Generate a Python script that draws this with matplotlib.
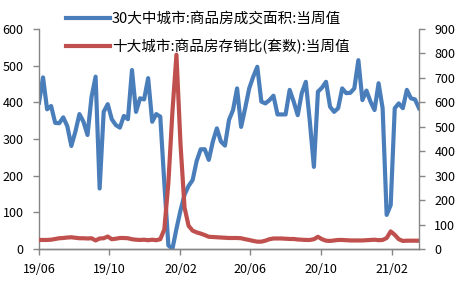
"""Weekly transaction area vs. inventory-to-sales ratio, dual axis line chart"""

import matplotlib
matplotlib.use("Agg")
import matplotlib.dates as mdates
import matplotlib.pyplot as plt
import numpy as np
import pandas as pd

plt.rcParams["font.family"] = ["Noto Sans CJK SC", "DejaVu Sans"]

# weekly observations, 2019-06-01 .. 2021-03-20
dates = pd.date_range("2019-06-01", periods=95, freq="7D")

area_30 = [
    399, 468, 381, 390, 344, 343, 359, 335, 281, 320,
    368, 347, 311, 415, 470, 165, 374, 395, 354, 338,
    331, 363, 354, 488, 374, 411, 408, 466, 347, 368,
    361, 180, 10, 0, 55, 105, 148, 172, 188, 240,
    272, 272, 243, 293, 329, 293, 282, 352, 379, 438,
    333, 384, 438, 470, 497, 402, 397, 406, 418, 367,
    367, 367, 434, 402, 365, 425, 456, 347, 224, 429,
    440, 456, 388, 374, 384, 438, 425, 426, 438, 515,
    406, 432, 402, 379, 452, 384, 93, 120, 384, 397,
    384, 434, 411, 408, 384,
]

ratio_10 = [
    37, 37, 37, 38, 41, 44, 45, 47, 48, 46,
    44, 44, 43, 44, 35, 43, 44, 51, 40, 42,
    45, 45, 44, 40, 38, 37, 38, 36, 38, 36,
    40, 80, 270, 560, 795, 430, 170, 95, 75, 68,
    63, 57, 50, 49, 48, 47, 46, 45, 45, 45,
    44, 40, 37, 33, 30, 30, 34, 40, 43, 43,
    43, 42, 41, 41, 39, 38, 37, 37, 40, 50,
    40, 34, 33, 35, 37, 37, 36, 35, 35, 35,
    35, 36, 37, 38, 36, 37, 45, 72, 58, 40,
    33, 34, 34, 34, 34,
]

label_area = "30大中城市:商品房成交面积:当周值"
label_ratio = "十大城市:商品房存销比(套数):当周值"

BLUE = "#4a7ebb"
RED = "#c0504d"
SPINE = "#868686"
W, H = 477, 281

fig = plt.figure(figsize=(W / 100, H / 100), dpi=100)
fig.subplots_adjust(left=39 / W, right=419 / W, bottom=1 - 249 / H, top=1 - 29 / H)
ax1 = fig.add_subplot(111)
ax2 = ax1.twinx()

l1, = ax1.plot(dates, area_30, color=BLUE, lw=3, solid_joinstyle="round")
l2, = ax2.plot(dates, ratio_10, color=RED, lw=3, solid_joinstyle="round")

ax1.set_ylim(0, 600)
ax1.set_yticks(np.arange(0, 601, 100))
ax2.set_ylim(0, 900)
ax2.set_yticks(np.arange(0, 901, 100))
ax1.set_xlim(dates[0], dates[-1])

ax1.xaxis.set_major_locator(mdates.MonthLocator(bymonth=(2, 6, 10), bymonthday=1))
ax1.xaxis.set_major_formatter(mdates.DateFormatter("%y/%m"))

for ax in (ax1, ax2):
    ax.spines["top"].set_visible(False)
    for side in ("left", "right", "bottom"):
        ax.spines[side].set_color(SPINE)
        ax.spines[side].set_linewidth(1)
    ax.tick_params(axis="both", direction="out", length=4, width=1,
                   color=SPINE, labelsize=9, labelcolor="black", pad=7)
ax1.spines["right"].set_visible(False)
ax2.spines["left"].set_visible(False)
ax1.tick_params(axis="x", pad=6)

fig.legend(
    [l1, l2], [label_area, label_ratio],
    loc="upper left",
    bbox_to_anchor=(66 / W, 1 - 12 / H),
    frameon=False,
    fontsize=10.5,
    handlelength=3.0,
    handletextpad=0.15,
    labelspacing=0.9,
    borderpad=0,
    borderaxespad=0,
)

plt.savefig("out.png", dpi=100)
